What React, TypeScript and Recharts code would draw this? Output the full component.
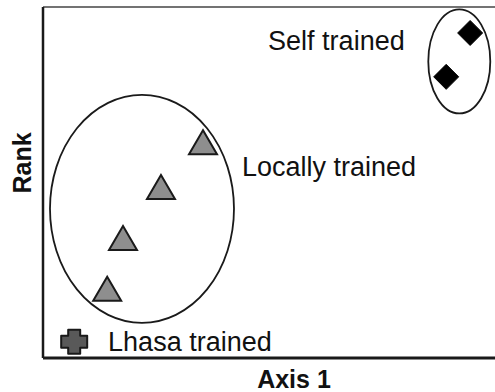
import { ScatterChart, Scatter, XAxis, YAxis, ReferenceLine } from "recharts";

// values (axis units 0-100)
const selfTrained = [
  { x: 94.5, y: 92.6 },
  { x: 89.2, y: 80.1 },
];

const locallyTrained = [
  { x: 35.4, y: 61.5 },
  { x: 26.1, y: 48.7 },
  { x: 17.7, y: 34.2 },
  { x: 14.2, y: 19.7 },
];

const lhasaTrained = [{ x: 6.9, y: 4.6 }];

const groupOutlines = [
  { x: 21.9, y: 42.5, group: "local" },
  { x: 92.1, y: 84.5, group: "self" },
];

const groupLabels = [
  { x: 49.8, y: 90.3, text: "Self trained" },
  { x: 44.0, y: 54.4, text: "Locally trained" },
  { x: 14.4, y: 4.6, text: "Lhasa trained" },
];

const OUTLINE_RADII: Record<string, [number, number]> = {
  local: [92, 114],
  self: [31, 52],
};

const FONT = "'Liberation Sans', Arial, Helvetica, sans-serif";
const INK = "#1a1a1a";

const TriangleMark = (props: any) => {
  const { cx, cy } = props;
  const w = 28;
  const h = 24;
  return (
    <polygon
      points={`${cx},${cy - h / 2} ${cx - w / 2},${cy + h / 2} ${cx + w / 2},${cy + h / 2}`}
      fill="#8e8e8e"
      stroke={INK}
      strokeWidth={2}
    />
  );
};

const DiamondMark = (props: any) => {
  const { cx, cy } = props;
  const r = 12.5;
  return (
    <polygon
      points={`${cx},${cy - r} ${cx + r},${cy} ${cx},${cy + r} ${cx - r},${cy}`}
      fill="#000"
      stroke="#000"
      strokeWidth={1}
    />
  );
};

const CrossMark = (props: any) => {
  const { cx, cy } = props;
  const hw = 13;
  const hh = 12;
  const a = 6;
  const pts = [
    [-a, -hh], [a, -hh], [a, -a], [hw, -a], [hw, a], [a, a],
    [a, hh], [-a, hh], [-a, a], [-hw, a], [-hw, -a], [-a, -a],
  ]
    .map(([dx, dy]) => `${cx + dx},${cy + dy}`)
    .join(" ");
  return (
    <polygon points={pts} fill="#595959" stroke={INK} strokeWidth={2} strokeLinejoin="round" />
  );
};

const OutlineMark = (props: any) => {
  const { cx, cy, payload } = props;
  const [rx, ry] = OUTLINE_RADII[payload.group];
  return <ellipse cx={cx} cy={cy} rx={rx} ry={ry} fill="none" stroke={INK} strokeWidth={1.8} />;
};

const LabelMark = (props: any) => {
  const { cx, cy, payload } = props;
  return (
    <text
      x={cx}
      y={cy}
      textAnchor="start"
      dominantBaseline="central"
      fontFamily={FONT}
      fontSize={27}
      fill="#111"
    >
      {payload.text}
    </text>
  );
};

export default function App() {
  return (
    <div style={{ position: "absolute", left: 0, top: 0, background: "#fff" }}>
      <ScatterChart width={495} height={392} margin={{ top: 7, right: 0, bottom: 0, left: 0 }}>
        <XAxis
          type="number"
          dataKey="x"
          domain={[0, 100]}
          height={34}
          tick={false}
          tickLine={false}
          axisLine={{ stroke: INK, strokeWidth: 3 }}
          label={(p: any) => (
            <text
              x={p.viewBox.x + 251}
              y={p.viewBox.y + 21}
              textAnchor="middle"
              dominantBaseline="central"
              fontFamily={FONT}
              fontWeight="bold"
              fontSize={25}
              fill="#111"
            >
              Axis 1
            </text>
          )}
        />
        <YAxis
          type="number"
          dataKey="y"
          domain={[0, 100]}
          width={43}
          tick={false}
          tickLine={false}
          axisLine={{ stroke: INK, strokeWidth: 2.5 }}
          label={(p: any) => (
            <text
              x={22}
              y={163}
              transform="rotate(-90 22 163)"
              textAnchor="middle"
              dominantBaseline="central"
              fontFamily={FONT}
              fontWeight="bold"
              fontSize={25}
              fill="#111"
            >
              Rank
            </text>
          )}
        />
        <ReferenceLine y={100} stroke="#444" strokeWidth={1.5} />
        <Scatter data={groupOutlines} shape={OutlineMark} isAnimationActive={false} />
        <Scatter data={locallyTrained} shape={TriangleMark} isAnimationActive={false} />
        <Scatter data={selfTrained} shape={DiamondMark} isAnimationActive={false} />
        <Scatter data={lhasaTrained} shape={CrossMark} isAnimationActive={false} />
        <Scatter data={groupLabels} shape={LabelMark} isAnimationActive={false} />
      </ScatterChart>
    </div>
  );
}
